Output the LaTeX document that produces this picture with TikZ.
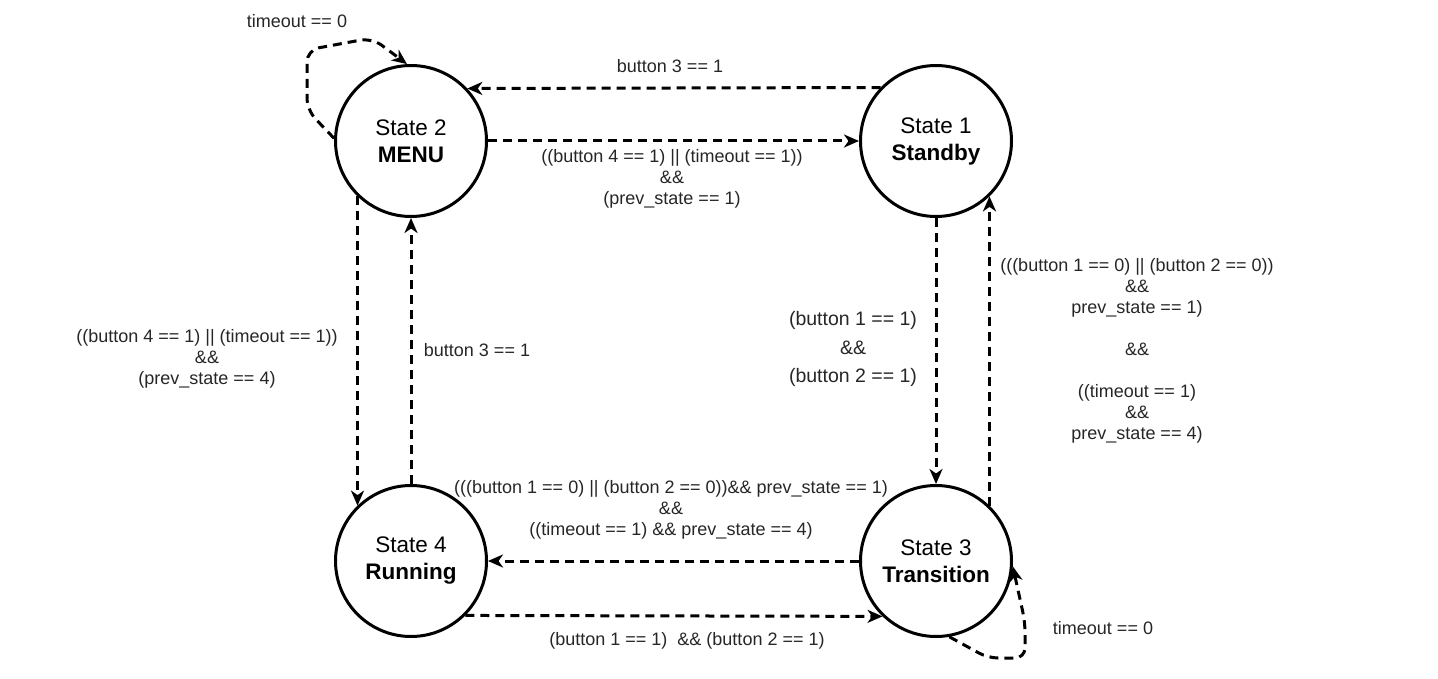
\documentclass[tikz,border=0pt]{standalone}
\usepackage{fontspec}
\setmainfont{Liberation Sans}
\usetikzlibrary{arrows.meta}
\tikzset{
	state/.style={draw, circle, line width=3pt, minimum size=151pt, inner sep=0pt, align=center, font=\fontsize{22.5}{27}\selectfont},
	trans/.style={line width=3pt, dash pattern=on 9pt off 6pt, -{Stealth[length=15pt, width=13pt, inset=4.5pt]}},
	lbl/.style={align=center, inner sep=0pt, text=black!85, font=\fontsize{18}{21}\selectfont},
}
\begin{document}
\begin{tikzpicture}[x=1pt, y=-1pt]
		%%%%% START %%%%%
		\useasboundingbox (0, 0) rectangle (1438, 679);
		
		\node[state] (s2) at (411, 141) {State 2\\\textbf{MENU}};
		\node[state] (s1) at (936, 141) {State 1\\\textbf{Standby}};
		\node[state] (s4) at (411, 561) {State 4\\\textbf{Running}};
		\node[state] (s3) at (936, 561) {State 3\\\textbf{Transition}};
		
		% top row
		\draw[trans] (s1.136.5) -- (s2.43.5);
		\draw[trans] (s2.east) -- (s1.west);
		\node[lbl] (l12) at (670, 66) {button 3 == 1};
		\node[lbl] (l21) at (672, 179) {((button 4 == 1) || (timeout == 1))\\\&\&\\(prev\_state == 1)};
		
		% left column
		\draw[trans] (s2.-134.6) -- (s4.134.6);
		\draw[trans] (s4.north) -- (s2.south);
		\node[lbl] (l24) at (207, 359) {((button 4 == 1) || (timeout == 1))\\\&\&\\(prev\_state == 4)};
		\node[lbl] (l42) at (477, 350) {button 3 == 1};
		
		% right column
		\draw[trans] (s1.south) -- (s3.north);
		\draw[trans] (s3.46.5) -- (s1.-46.5);
		\node[lbl, font=\fontsize{19.5}{28.5}\selectfont] (l13) at (853, 349) {(button 1 == 1)\\\&\&\\(button 2 == 1)};
		\node[lbl] (l31) at (1137, 351) {(((button 1 == 0) || (button 2 == 0))\\\&\&\\prev\_state == 1)\\[21pt]\&\&\\[21pt]((timeout == 1)\\\&\&\\prev\_state == 4)};
		
		% bottom row
		\draw[trans] (s3.west) -- (s4.east);
		\draw[trans] (s4.-45.7) -- (s3.-134.3);
		\node[lbl] (l34) at (671, 510) {(((button 1 == 0) || (button 2 == 0))\&\& prev\_state == 1)\\\&\&\\((timeout == 1) \&\& prev\_state == 4)};
		\node[lbl] (l43) at (687, 641) {(button 1 == 1)\ \ \&\& (button 2 == 1)};
		
		% self loops
		\draw[trans, rounded corners=12pt] (s2.178) -- (307, 110) -- (307, 50) -- (372, 38) -- (s2.93);
		\node[lbl] (l22) at (297, 21) {timeout == 0};
		\draw[trans, rounded corners=10pt] (s3.-80) -- (988, 658) -- (1025, 658) -- (1025, 622) -- (s3.-4);
		\node[lbl] (l33) at (1103, 628) {timeout == 0};
		
		%%%%% END %%%%%
\end{tikzpicture}
\end{document}
